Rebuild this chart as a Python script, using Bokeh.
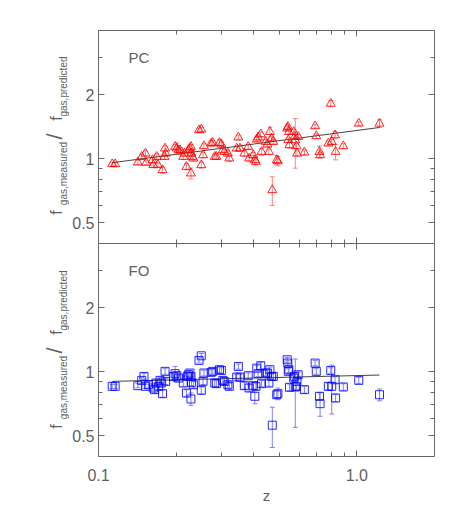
import numpy as np
from bokeh.plotting import figure
from bokeh.models import (LogAxis, FixedTicker, Whisker, TeeHead, ColumnDataSource,
                          Label, Range1d, PrintfTickFormatter)
from bokeh.layouts import column, row
from bokeh.embed import file_html
from bokeh.resources import INLINE

# ---------------- data ----------------
pc_z = [0.113, 0.116, 0.142, 0.147, 0.152, 0.153, 0.162, 0.163, 0.168, 0.170,
        0.177, 0.180, 0.181, 0.182, 0.198, 0.201, 0.204, 0.207, 0.213, 0.215,
        0.219, 0.223, 0.226, 0.228, 0.229, 0.231, 0.233, 0.228, 0.245, 0.250,
        0.250, 0.254, 0.256, 0.273, 0.277, 0.282, 0.286, 0.294, 0.299, 0.303,
        0.307, 0.317, 0.321, 0.343, 0.348, 0.353, 0.367, 0.380, 0.383, 0.397,
        0.403, 0.407, 0.410, 0.415, 0.425, 0.428, 0.444, 0.451, 0.457, 0.461,
        0.468, 0.475, 0.471, 0.490, 0.495, 0.538, 0.541, 0.546, 0.543, 0.549,
        0.570, 0.575, 0.578, 0.584, 0.587, 0.593, 0.627, 0.690, 0.697, 0.717,
        0.721, 0.776, 0.793, 0.800, 0.824, 0.828, 0.887, 1.018, 1.225]
pc_ratio = [0.944, 0.944, 0.961, 1.022, 1.059, 0.958, 0.986, 0.934, 1.022, 0.934,
            0.885, 1.022, 1.118, 1.059, 1.138, 1.118, 1.098, 1.098, 1.022, 1.059,
            0.917, 1.098, 1.118, 1.138, 1.059, 1.022, 1.004, 0.854, 1.362, 1.372,
            0.934, 1.040, 1.146, 1.180, 1.188, 1.022, 1.022, 1.188, 1.167, 1.098,
            1.078, 1.059, 1.004, 1.118, 1.259, 1.118, 1.059, 1.138, 1.004, 1.040,
            0.986, 0.968, 1.232, 1.259, 1.304, 1.078, 1.201, 1.167, 1.078, 1.337,
            1.245, 1.201, 0.713, 0.986, 0.975, 1.387, 1.412, 1.337, 1.223, 1.159,
            1.337, 1.268, 1.223, 1.146, 1.059, 1.268, 1.071, 1.422, 1.277, 1.078,
            1.040, 1.180, 1.815, 1.201, 1.290, 1.078, 1.146, 1.463, 1.463]
pc_err = [0.02, 0.02, 0.02, 0.03, 0.03, 0.02, 0.03, 0.02, 0.03, 0.02,
          0.03, 0.03, 0.03, 0.03, 0.03, 0.07, 0.03, 0.03, 0.03, 0.03,
          0.03, 0.03, 0.04, 0.03, 0.03, 0.03, 0.03, 0.05, 0.03, 0.03,
          0.03, 0.03, 0.03, 0.03, 0.03, 0.03, 0.03, 0.04, 0.03, 0.03,
          0.03, 0.03, 0.03, 0.03, 0.03, 0.03, 0.03, 0.03, 0.03, 0.03,
          0.05, 0.03, 0.03, 0.03, 0.03, 0.04, 0.03, 0.03, 0.03, 0.07,
          0.03, 0.03, 0.11, 0.05, 0.05, 0.03, 0.03, 0.03, 0.03, 0.04,
          0.03, 0.03, 0.32, 0.03, 0.03, 0.03, 0.03, 0.03, 0.03, 0.07,
          0.03, 0.03, 0.06, 0.03, 0.05, 0.09, 0.03, 0.03, 0.06]

fo_z = [0.113, 0.116, 0.142, 0.147, 0.150, 0.152, 0.156, 0.163, 0.165, 0.167,
        0.171, 0.173, 0.175, 0.177, 0.181, 0.182, 0.195, 0.198, 0.201, 0.204,
        0.213, 0.219, 0.221, 0.223, 0.226, 0.228, 0.229, 0.233, 0.228, 0.245,
        0.250, 0.250, 0.254, 0.256, 0.273, 0.277, 0.282, 0.286, 0.294, 0.299,
        0.303, 0.307, 0.317, 0.321, 0.343, 0.348, 0.353, 0.367, 0.380, 0.383,
        0.397, 0.403, 0.407, 0.410, 0.415, 0.425, 0.428, 0.444, 0.451, 0.457,
        0.461, 0.468, 0.475, 0.471, 0.490, 0.495, 0.538, 0.541, 0.546, 0.543,
        0.549, 0.570, 0.575, 0.578, 0.584, 0.587, 0.593, 0.627, 0.690, 0.697,
        0.717, 0.721, 0.776, 0.793, 0.800, 0.824, 0.828, 0.887, 1.018, 1.225]
fo_ratio = [0.854, 0.854, 0.860, 0.911, 0.951, 0.854, 0.869, 0.839, 0.824, 0.885,
            0.854, 0.911, 0.885, 0.789, 1.004, 0.901, 0.951, 0.979, 0.958, 0.934,
            0.885, 0.794, 0.951, 0.968, 0.986, 0.951, 0.891, 0.869, 0.745, 1.130,
            1.188, 0.818, 0.901, 0.986, 0.993, 1.004, 0.885, 0.879, 1.022, 1.014,
            0.911, 0.901, 0.869, 0.854, 0.944, 1.059, 0.944, 0.860, 0.958, 0.839,
            0.860, 0.767, 0.854, 1.040, 0.979, 1.067, 0.879, 0.986, 0.986, 0.885,
            1.022, 0.951, 0.951, 0.561, 0.780, 0.789, 1.138, 1.098, 1.022, 1.004,
            0.845, 0.934, 0.951, 0.848, 0.854, 0.901, 0.968, 0.824, 1.098, 1.004,
            0.767, 0.708, 0.854, 1.014, 0.854, 0.917, 0.753, 0.848, 0.911, 0.780]
fo_err = [0.02, 0.02, 0.02, 0.03, 0.03, 0.02, 0.03, 0.02, 0.03, 0.03,
          0.03, 0.03, 0.03, 0.03, 0.03, 0.03, 0.03, 0.08, 0.03, 0.03,
          0.03, 0.03, 0.03, 0.03, 0.03, 0.03, 0.03, 0.03, 0.05, 0.03,
          0.03, 0.03, 0.03, 0.03, 0.03, 0.03, 0.03, 0.03, 0.03, 0.03,
          0.03, 0.03, 0.03, 0.03, 0.03, 0.03, 0.03, 0.03, 0.03, 0.03,
          0.03, 0.06, 0.03, 0.03, 0.03, 0.04, 0.03, 0.03, 0.03, 0.03,
          0.03, 0.03, 0.03, 0.12, 0.03, 0.05, 0.03, 0.03, 0.03, 0.03,
          0.03, 0.03, 0.03, 0.30, 0.03, 0.03, 0.03, 0.03, 0.03, 0.03,
          0.03, 0.09, 0.03, 0.03, 0.22, 0.03, 0.03, 0.03, 0.03, 0.05]

fit_z = [0.113, 1.225]
pc_fit = [0.958, 1.402]
fo_fit = [0.901, 0.965]

x_major = [0.1, 1.0]
x_minor = [0.2, 0.3, 0.4, 0.5, 0.6, 0.7, 0.8, 0.9]
y_major = [0.5, 1, 2]
y_minor = [0.6, 0.7, 0.8, 0.9, 3]
y_labels = {0.5: "0.5", 1: "1", 2: "2"}

FONT = "Liberation Sans"
AX = "#666666"
TXT = "#606060"
LAB_W = 69          # width of the strip holding the y-axis titles
TOTAL_H = 506


def add_axis(p, side, ticks, minor, labeled, overrides=None, fmt=None, label=None):
    ax = LogAxis(ticker=FixedTicker(ticks=ticks, minor_ticks=minor),
                 major_tick_in=6, major_tick_out=0, minor_tick_in=4, minor_tick_out=0,
                 axis_line_color=AX, major_tick_line_color=AX, minor_tick_line_color=AX)
    if labeled:
        ax.major_label_text_font = FONT
        ax.major_label_text_font_size = "16px"
        ax.major_label_text_color = TXT
        ax.major_label_standoff = 12 if side == "below" else 4
        if overrides:
            ax.major_label_overrides = overrides
        if fmt:
            ax.formatter = fmt
        if side == "left":
            ax.major_label_orientation = "horizontal"
    else:
        ax.major_label_text_font_size = "1px"
        ax.major_label_text_color = None
        ax.major_label_standoff = 0
    if label:
        ax.axis_label = label
        ax.axis_label_text_font = FONT
        ax.axis_label_text_font_size = "15px"
        ax.axis_label_text_font_style = "normal"
        ax.axis_label_text_color = TXT
        ax.axis_label_standoff = 3
    p.add_layout(ax, side)


def panel(z, r, err, fit, marker, color, barcolor, tag, bottom):
    p = figure(x_axis_type="log", y_axis_type="log",
               x_range=Range1d(0.1, 2.0), y_range=Range1d(0.4, 4.0),
               x_axis_location=None, y_axis_location=None,
               width=455 - LAB_W, height=263 if bottom else 243,
               min_border_left=96 - LAB_W, min_border_right=21,
               min_border_top=0 if bottom else 30, min_border_bottom=50 if bottom else 0,
               output_backend="svg", toolbar_location=None)
    p.grid.visible = False
    p.outline_line_color = None
    p.background_fill_color = "white"
    p.border_fill_color = "white"

    add_axis(p, "left", y_major, y_minor, True, overrides=y_labels)
    add_axis(p, "right", y_major, y_minor, False)
    add_axis(p, "above", x_major, x_minor, False)
    if bottom:
        add_axis(p, "below", x_major, x_minor, True,
                 fmt=PrintfTickFormatter(format="%.1f"), label="z")
    else:
        add_axis(p, "below", x_major, x_minor, False)

    r_arr = np.array(r)
    e_arr = np.array(err)
    src = ColumnDataSource(dict(z=z, r=r, lo=r_arr - e_arr, hi=r_arr + e_arr))
    p.add_layout(Whisker(base="z", upper="hi", lower="lo", source=src, dimension="height",
                         line_color=barcolor, line_width=1,
                         upper_head=TeeHead(size=5, line_color=barcolor, line_width=1),
                         lower_head=TeeHead(size=5, line_color=barcolor, line_width=1)))
    p.line(fit_z, fit, line_color="#444444", line_width=1)
    p.scatter("z", "r", source=src, marker=marker, size=9 if marker == "triangle" else 8,
              fill_color=None, line_color=color, line_width=1, line_alpha=0.85)

    p.add_layout(Label(x=30, y=186, x_units="screen", y_units="screen", text=tag,
                       text_font=FONT, text_font_size="15px", text_color=TXT,
                       text_baseline="alphabetic"))
    return p


# strip on the left carrying the composite y-axis titles  f_gas,measured / f_gas,predicted
lab = figure(width=LAB_W, height=TOTAL_H, x_range=Range1d(0, 1), y_range=Range1d(0, 1),
             x_axis_location=None, y_axis_location=None,
             min_border_left=0, min_border_right=0, min_border_top=0, min_border_bottom=0,
             output_backend="svg", toolbar_location=None)
lab.grid.visible = False
lab.outline_line_color = None
pieces = [("f", 56, 0, "16px"),
          ("gas,measured", 63, 39, "10px"),
          ("/", 54, 76, "22px"),
          ("f", 56, 94, "16px"),
          ("gas,predicted", 63, 126, "10px")]
for base in (TOTAL_H - 243, TOTAL_H - 457):      # frame bottoms of the two panels (from page bottom)
    for t, x, dy, fs in pieces:
        lab.add_layout(Label(x=x, y=base + 31 + dy, x_units="screen", y_units="screen", text=t,
                             angle=np.pi / 2, text_align="center", text_baseline="middle",
                             text_font=FONT, text_font_size=fs, text_color=TXT))

p1 = panel(pc_z, pc_ratio, pc_err, pc_fit, "triangle", "#ff0000", "#ff8080", "PC", False)
p2 = panel(fo_z, fo_ratio, fo_err, fo_fit, "square", "#0000ff", "#8080ff", "FO", True)

layout = row(lab, column(p1, p2, spacing=0), spacing=0)
open("out.html", "w").write(file_html(layout, INLINE))
